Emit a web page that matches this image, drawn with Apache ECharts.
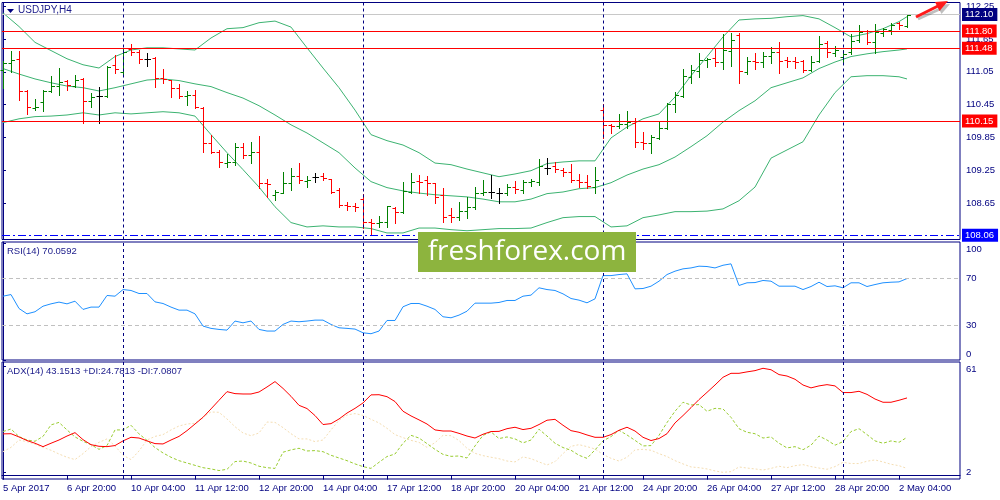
<!DOCTYPE html>
<html><head><meta charset="utf-8">
<script src="https://cdn.jsdelivr.net/npm/echarts@6/dist/echarts.min.js"></script>
<style>html,body{margin:0;padding:0;background:#fff}#c{width:1000px;height:500px}</style>
</head><body><div id="c"></div>
<script>
// ---------- data ----------
const tickIdx = [0,8,16,24,32,40,48,56,64,72,80,88,96,104,112];
const tickLabels = ["5 Apr 2017","6 Apr 20:00","10 Apr 04:00","11 Apr 12:00","12 Apr 20:00","14 Apr 04:00","17 Apr 12:00","18 Apr 20:00","20 Apr 04:00","21 Apr 12:00","24 Apr 20:00","26 Apr 04:00","27 Apr 12:00","28 Apr 20:00","2 May 04:00"];
const priceTicks = [108.65,109.25,109.85,110.45,111.05,111.65,112.25];
const separators = [15,45,75,105];

const open = [111.09,111.22,111.29,110.70,110.39,110.50,110.70,110.79,110.89,110.79,
110.92,110.52,110.61,110.61,111.18,111.05,111.47,111.42,111.29,111.31,
110.94,110.90,110.76,110.61,110.63,110.39,109.75,109.58,109.38,109.40,
109.68,109.53,109.58,109.02,108.80,108.83,109.02,109.15,109.05,109.13,
109.15,109.09,108.89,108.61,108.60,108.72,108.30,108.28,108.30,108.56,
108.49,108.85,109.05,109.07,109.02,108.80,108.43,108.40,108.50,108.58,
108.83,108.85,108.83,108.83,108.94,108.89,109.04,109.04,109.29,109.33,
109.26,109.22,109.07,109.04,108.94,110.35,110.08,110.06,110.10,110.12,
109.77,109.75,109.84,110.03,110.46,110.61,110.96,111.07,111.27,111.31,
111.23,111.43,111.73,111.05,111.25,111.23,111.34,111.42,111.27,111.25,
111.25,111.09,111.25,111.58,111.40,111.33,111.42,111.64,111.80,111.60,
111.76,111.82,111.95,111.89];
const high = [111.25,111.43,111.43,110.72,110.56,110.72,110.98,111.12,110.90,111.00,
110.94,110.67,110.78,111.16,111.36,111.49,111.56,111.45,111.40,111.33,
111.11,110.90,110.83,110.70,110.72,110.41,109.90,109.62,109.55,109.75,
109.75,109.77,109.88,109.09,108.89,109.22,109.29,109.38,109.15,109.20,
109.20,109.09,108.93,108.67,108.65,108.82,108.36,108.41,108.60,108.58,
109.04,109.20,109.16,109.15,109.02,108.93,108.56,108.67,108.76,108.94,
109.07,109.16,108.93,109.00,109.05,109.07,109.09,109.46,109.48,109.40,
109.29,109.36,109.18,109.16,109.31,110.46,110.10,110.28,110.34,110.21,
109.95,109.90,110.13,110.48,110.68,111.11,111.18,111.40,111.31,111.49,
111.75,111.76,111.76,111.33,111.40,111.42,111.51,111.60,111.33,111.33,
111.27,111.34,111.71,111.62,111.53,111.45,111.75,111.91,111.82,111.93,
111.86,111.95,111.97,112.11];
const low = [110.76,111.05,110.54,110.28,110.35,110.34,110.68,110.63,110.72,110.78,
110.12,110.41,110.12,110.59,111.03,110.98,111.36,111.22,111.16,110.78,
110.85,110.59,110.57,110.45,110.39,109.58,109.57,109.31,109.31,109.35,
109.48,109.38,108.93,108.76,108.71,108.83,108.89,109.02,108.94,109.04,
109.07,108.83,108.58,108.52,108.50,108.19,108.08,108.21,108.21,108.28,
108.47,108.83,108.83,108.80,108.65,108.30,108.30,108.34,108.38,108.54,
108.80,108.74,108.65,108.80,108.83,108.83,108.96,108.98,109.18,109.22,
109.15,109.04,108.94,108.93,108.83,109.84,109.93,110.03,110.03,109.68,
109.64,109.57,109.82,110.01,110.32,110.59,110.85,110.96,111.14,111.16,
111.11,111.16,110.85,111.01,111.11,111.14,111.21,111.03,111.14,111.12,
111.05,111.07,111.23,111.33,111.34,111.20,111.38,111.60,111.56,111.40,
111.71,111.75,111.84,111.87];
const close = [111.22,111.27,110.70,110.41,110.41,110.70,110.79,110.87,110.81,110.90,
110.52,110.59,110.61,111.14,111.11,111.42,111.42,111.29,111.29,110.94,
110.92,110.76,110.61,110.63,110.41,109.75,109.58,109.40,109.40,109.68,
109.53,109.58,109.02,109.00,108.85,109.02,109.15,109.07,109.07,109.13,
109.11,108.85,108.61,108.60,108.58,108.30,108.28,108.30,108.60,108.49,
108.87,109.04,109.04,109.02,108.76,108.40,108.40,108.50,108.58,108.83,
108.85,108.85,108.83,108.94,108.91,109.04,109.05,109.33,109.29,109.27,
109.22,109.07,109.04,108.96,109.07,110.08,110.06,110.10,110.13,109.77,
109.75,109.86,110.03,110.46,110.63,110.98,111.09,111.27,111.29,111.23,
111.45,111.64,111.07,111.25,111.23,111.34,111.42,111.25,111.25,111.23,
111.09,111.23,111.56,111.42,111.45,111.38,111.62,111.78,111.60,111.78,
111.84,111.91,111.91,112.10];

const bbIdx = [0,2,4,6,8,10,12,14,16,18,20,22,24,26,28,30,32,34,36,38,40,42,44,46,48,50,52,54,56,58,
60,62,64,66,68,70,72,74,76,78,80,82,84,86,88,90,92,94,96,98,100,102,104,106,108,110,112,113];
const bbUpper = [112.13,111.88,111.59,111.44,111.29,111.18,111.12,111.33,111.45,111.49,111.49,111.47,111.45,111.67,111.84,111.86,111.95,111.98,111.87,111.49,
111.12,110.76,110.35,109.90,109.79,109.71,109.57,109.38,109.35,109.27,109.20,109.13,109.18,109.24,109.37,109.40,109.42,109.42,109.84,110.04,
110.19,110.28,110.59,110.98,111.33,111.69,112.00,112.02,112.03,112.06,112.08,112.02,111.86,111.69,111.75,111.84,111.97,112.06];
const bbMid = [111.11,111.01,110.92,110.85,110.79,110.76,110.70,110.76,110.83,110.90,110.92,110.89,110.83,110.78,110.67,110.57,110.43,110.26,110.08,109.93,
109.75,109.57,109.29,109.04,108.93,108.87,108.83,108.80,108.78,108.76,108.72,108.67,108.67,108.72,108.82,108.85,108.91,108.93,109.02,109.16,
109.27,109.35,109.49,109.68,109.88,110.13,110.34,110.52,110.76,110.85,110.94,111.11,111.23,111.33,111.38,111.42,111.45,111.47];
const bbLower = [110.12,110.19,110.23,110.24,110.26,110.30,110.26,110.30,110.28,110.30,110.32,110.30,110.24,109.90,109.57,109.26,108.94,108.58,108.29,108.21,
108.23,108.21,108.21,108.18,108.10,108.10,108.19,108.19,108.16,108.14,108.16,108.18,108.18,108.19,108.29,108.38,108.40,108.40,108.21,108.23,
108.38,108.43,108.49,108.49,108.50,108.54,108.69,108.94,109.47,109.62,109.77,110.26,110.67,110.96,110.98,110.98,110.96,110.92];

const rsi = [54.9,56.3,44.3,39.7,41.5,46.3,48.3,49.8,48.3,50.6,
43.5,45.5,45.5,55.5,54.9,60.6,59.8,57.2,57.2,50.0,
48.6,45.5,42.9,42.9,39.7,29.2,27.2,26.3,25.7,33.5,
32.0,33.5,26.3,24.9,24.9,30.6,33.5,32.9,33.5,34.3,
34.3,30.6,27.7,27.2,26.6,23.4,22.6,24.9,34.0,34.0,
45.8,48.6,48.6,46.3,43.5,37.2,36.3,38.6,42.0,48.9,
48.9,48.9,49.5,51.2,51.2,54.9,55.8,62.1,60.6,59.8,
56.9,52.9,51.5,49.2,52.6,72.6,72.6,73.5,74.1,61.2,
61.5,63.5,67.8,73.5,76.4,78.4,79.2,80.7,80.4,79.2,
81.5,82.7,64.1,66.4,66.6,68.4,67.8,63.5,63.5,63.5,
60.6,63.2,66.9,63.2,63.8,62.1,66.4,66.4,63.2,64.9,
66.4,66.9,67.2,70.06];

const adx = [23.2,23.3,21.5,19.5,18.0,16.1,18.0,19.8,22.0,23.9,
20.0,17.2,16.3,16.1,16.7,19.3,21.3,20.9,19.3,17.8,
17.6,19.8,21.8,25.0,28.7,32.4,37.1,41.9,46.7,45.6,
45.4,45.4,46.5,49.3,52.3,48.5,44.1,39.1,37.3,33.4,
28.4,28.9,31.5,34.8,37.4,40.4,44.9,45.0,43.9,41.2,
35.8,33.2,31.0,28.7,25.4,24.8,24.8,23.5,22.0,20.9,
23.0,24.5,24.6,26.1,26.9,25.6,26.3,28.4,30.8,31.3,
28.0,25.0,24.1,22.6,21.3,21.3,22.8,25.2,26.9,24.8,
21.3,19.5,20.6,23.3,29.3,33.4,37.8,42.3,46.3,50.4,
54.7,56.9,56.9,57.7,58.4,59.7,58.9,56.2,55.4,53.6,
50.4,48.8,49.9,50.6,49.9,46.2,46.2,46.9,45.2,42.6,
40.8,40.8,41.9,43.2];
const plusDI = [24.5,25.9,21.7,19.8,19.1,21.8,28.2,29.6,25.4,21.5,
19.1,17.2,14.6,16.7,25.4,25.4,28.0,23.2,19.6,15.6,
12.6,10.2,8.3,7.0,5.7,4.4,3.7,2.8,3.5,7.8,
8.1,7.0,5.2,4.4,4.0,13.0,14.3,15.2,13.7,13.9,
13.3,11.3,9.8,8.3,6.5,5.0,4.0,7.4,10.6,12.0,
18.0,22.4,20.9,17.8,14.6,11.8,10.7,10.9,9.8,16.5,
22.4,24.3,20.6,21.5,20.4,18.2,19.8,25.8,22.0,18.0,
15.6,14.1,11.3,9.6,14.3,19.3,21.7,25.2,22.6,19.6,
16.5,16.7,22.4,29.5,35.8,40.8,39.3,39.5,35.8,37.4,
37.1,32.4,26.1,24.1,23.3,20.9,21.5,18.0,15.4,16.1,
14.4,16.9,22.0,19.8,16.9,18.9,24.5,26.1,22.8,19.3,
18.0,19.3,18.5,21.3];
const minusDI = [13.3,15.7,19.8,18.9,17.4,15.7,14.1,12.0,10.2,8.9,
12.2,16.1,18.5,20.4,16.5,11.3,8.9,13.7,19.8,21.8,
22.8,25.4,27.6,28.7,29.1,32.6,35.4,35.2,31.5,27.2,
23.7,22.2,23.7,29.8,29.6,26.7,23.3,20.4,20.4,18.9,
19.8,25.4,30.8,33.7,34.5,33.5,31.3,29.3,26.3,22.8,
21.1,19.6,18.5,15.7,18.3,22.4,22.2,19.5,15.2,12.4,
11.1,10.2,9.4,8.1,7.6,10.4,9.4,7.6,5.9,7.8,
12.2,16.3,17.2,16.1,14.8,11.8,9.6,8.1,10.2,14.3,
14.6,14.1,12.2,10.6,8.3,6.5,4.8,4.4,3.7,2.6,
1.8,2.2,4.8,4.2,3.7,3.1,4.0,5.2,4.4,5.5,
6.1,5.0,4.2,3.5,5.0,7.4,6.7,6.7,8.0,8.7,
7.6,6.3,5.5,4.0];

// ---------- chart ----------
const NAVY = '#000080';
const FONT = "'Liberation Sans', Arial, sans-serif";
const chart = echarts.init(document.getElementById('c'), null, {width:1000, height:500});

const ohlc = open.map((o,i)=>[i,o,high[i],low[i],close[i]]);
const pair = (arr) => arr.map((v,i)=>[i,v]);
const bbPair = (arr) => bbIdx.map((x,k)=>[x,arr[k]]);

const sepLines = separators.map(x => ({xAxis:x, lineStyle:{color:NAVY, type:[3,3], width:1}, label:{show:false}}));
function lvl(v, lineColor, bg, lineType, txt){
  return {yAxis:v, lineStyle:{color:lineColor, type:lineType, width:1},
    label:{show:true, position:'end', formatter:txt, color:'#fff', backgroundColor:bg,
      padding:[2,4,1,3], fontSize:9.5, fontFamily:FONT, distance:2}};
}

const xBase = {type:'value', min:-0.125, max:119.625, axisLine:{show:false}, axisTick:{show:false}, axisLabel:{show:false}, splitLine:{show:false}};
const yLabel = {color:NAVY, fontSize:9.5, fontFamily:FONT, margin:6};

const option = {
  animation:false,
  backgroundColor:'#ffffff',
  grid:[
    {left:2, top:2.5, width:958, height:237, show:true, borderColor:NAVY, borderWidth:1, backgroundColor:'#fff'},
    {left:2, top:242, width:958, height:118, show:true, borderColor:NAVY, borderWidth:1},
    {left:2, top:362, width:958, height:117, show:true, borderColor:NAVY, borderWidth:1}
  ],
  xAxis:[
    Object.assign({gridIndex:0}, xBase),
    Object.assign({gridIndex:1}, xBase),
    {gridIndex:2, type:'value', min:-0.125, max:119.625, splitLine:{show:false},
     axisLine:{show:true, lineStyle:{color:NAVY}},
     axisTick:{show:true, length:4, lineStyle:{color:NAVY}, customValues:tickIdx},
     axisLabel:{show:true, customValues:tickIdx, align:'left', margin:4, color:NAVY, fontSize:9.5, fontFamily:FONT,
       formatter:(v)=>{const k=tickIdx.indexOf(Math.round(v)); return k>=0?tickLabels[k]:'';}}
    }
  ],
  yAxis:[
    {gridIndex:0, type:'value', position:'right', min:107.98, max:112.32, splitLine:{show:false},
     axisLine:{show:true, lineStyle:{color:NAVY}},
     axisTick:{show:true, length:3, lineStyle:{color:NAVY}, customValues:priceTicks},
     axisLabel:Object.assign({customValues:priceTicks, formatter:(v)=>v.toFixed(2)}, yLabel)},
    {gridIndex:1, type:'value', position:'right', min:0, max:101.5, splitLine:{show:false},
     axisLine:{show:true, lineStyle:{color:NAVY}},
     axisTick:{show:true, length:3, lineStyle:{color:NAVY}, customValues:[0,30,70,100]},
     axisLabel:Object.assign({customValues:[0,30,70,100], lineHeight:12,
       formatter:(v)=> v===100 ? '\n100' : (v===0 ? '0\n' : String(v))}, yLabel)},
    {gridIndex:2, type:'value', position:'right', min:-1.9, max:63.2, splitLine:{show:false},
     axisLine:{show:true, lineStyle:{color:NAVY}},
     axisTick:{show:true, length:3, lineStyle:{color:NAVY}, customValues:[2,61]},
     axisLabel:Object.assign({customValues:[2,61], lineHeight:6,
       formatter:(v)=> v===61 ? '\n61' : String(v)}, yLabel)}
  ],
  series:[
    {type:'line', name:'bbUpper', xAxisIndex:0, yAxisIndex:0, data:bbPair(bbUpper), showSymbol:false, z:2,
     lineStyle:{color:'#3cb371', width:1}},
    {type:'line', name:'bbLower', xAxisIndex:0, yAxisIndex:0, data:bbPair(bbLower), showSymbol:false, z:2,
     lineStyle:{color:'#3cb371', width:1}},
    {type:'line', name:'bbMid', xAxisIndex:0, yAxisIndex:0, data:bbPair(bbMid), showSymbol:false, z:2,
     lineStyle:{color:'#3cb371', width:1},
     markLine:{symbol:['none','none'], silent:true, animation:false, z:5,
       data:[
         lvl(112.10, '#c8c8c8', NAVY, 'solid', '112.10'),
         lvl(111.80, '#ff0000', '#ff0000', 'solid', '111.80'),
         lvl(111.48, '#ff0000', '#ff0000', 'solid', '111.48'),
         lvl(110.15, '#ff0000', '#ff0000', 'solid', '110.15'),
         lvl(108.06, '#0000ff', '#0000ff', [8,3,2,3], '108.06')
       ].concat(sepLines)}},
    {type:'custom', name:'USDJPY', xAxisIndex:0, yAxisIndex:0, data:ohlc, z:3,
     encode:{x:0, y:[1,2,3,4]},
     renderItem:(params, api)=>{
       const i = api.value(0), o = api.value(1), h = api.value(2), l = api.value(3), c = api.value(4);
       const pO = api.coord([i,o]), pH = api.coord([i,h]), pL = api.coord([i,l]), pC = api.coord([i,c]);
       const x = Math.round(pO[0]) + 0.5;
       const col = c > o ? '#008000' : (c < o ? '#ff0000' : '#000000');
       const yo = Math.round(pO[1]) + 0.5, yc = Math.round(pC[1]) + 0.5;
       const st = {stroke:col, lineWidth:1};
       return {type:'group', children:[
         {type:'line', shape:{x1:x, y1:Math.round(pH[1]), x2:x, y2:Math.round(pL[1])+1}, style:st},
         {type:'line', shape:{x1:x-3, y1:yo, x2:x, y2:yo}, style:st},
         {type:'line', shape:{x1:x, y1:yc, x2:x+3.5, y2:yc}, style:st}
       ]};
     }},
    {type:'line', name:'RSI', xAxisIndex:1, yAxisIndex:1, data:pair(rsi), showSymbol:false, z:3,
     lineStyle:{color:'#1e90ff', width:1},
     markLine:{symbol:['none','none'], silent:true, animation:false, label:{show:false},
       data:[
         {yAxis:70, lineStyle:{color:'#c0c0c0', type:[4,3], width:1}},
         {yAxis:30, lineStyle:{color:'#c0c0c0', type:[4,3], width:1}}
       ].concat(sepLines)}},
    {type:'line', name:'-DI', xAxisIndex:2, yAxisIndex:2, data:pair(minusDI), showSymbol:false, z:2,
     lineStyle:{color:'#f5deb3', width:1, type:[2,2]}},
    {type:'line', name:'+DI', xAxisIndex:2, yAxisIndex:2, data:pair(plusDI), showSymbol:false, z:2,
     lineStyle:{color:'#9acd32', width:1, type:[3,2]}},
    {type:'line', name:'ADX', xAxisIndex:2, yAxisIndex:2, data:pair(adx), showSymbol:false, z:3,
     lineStyle:{color:'#ff0000', width:1},
     markLine:{symbol:['none','none'], silent:true, animation:false, label:{show:false}, data:sepLines}}
  ],
  graphic:[
    {type:'polygon', shape:{points:[[7,9],[14,9],[10.5,13]]}, style:{fill:NAVY}, z:10},
    {type:'text', left:18, top:5, style:{text:'USDJPY,H4', fill:'#1a1a8a', font:"10px "+FONT}, z:10},
    {type:'text', left:7, top:246.5, style:{text:'RSI(14) 70.0592', fill:'#1a1a8a', font:"9.5px "+FONT}, z:10},
    {type:'text', left:7, top:366.5, style:{text:'ADX(14) 43.1513 +DI:24.7813 -DI:7.0807', fill:'#1a1a8a', font:"9.5px "+FONT}, z:10},
    {type:'rect', shape:{x:418, y:232, width:218, height:40}, style:{fill:'#8db43e'}, z:20},
    {type:'text', x:527, y:252, style:{text:'freshforex.com', fill:'#ffffff', font:"28px 'Open Sans', sans-serif", textAlign:'center', textVerticalAlign:'middle'}, z:21},
    {type:'line', shape:{x1:918, y1:19, x2:940, y2:9}, style:{stroke:'rgba(0,0,0,0.25)', lineWidth:3}, z:29},
    {type:'polygon', shape:{points:[[950,4],[937,5],[941.5,14]]}, style:{fill:'rgba(0,0,0,0.25)'}, z:29},
    {type:'line', shape:{x1:916, y1:17, x2:938, y2:6}, style:{stroke:'#ff1a1a', lineWidth:3}, z:30},
    {type:'polygon', shape:{points:[[948,1],[935,2],[939.5,11]]}, style:{fill:'#ff1a1a'}, z:30}
  ]
};
chart.setOption(option);
</script>
</body></html>
